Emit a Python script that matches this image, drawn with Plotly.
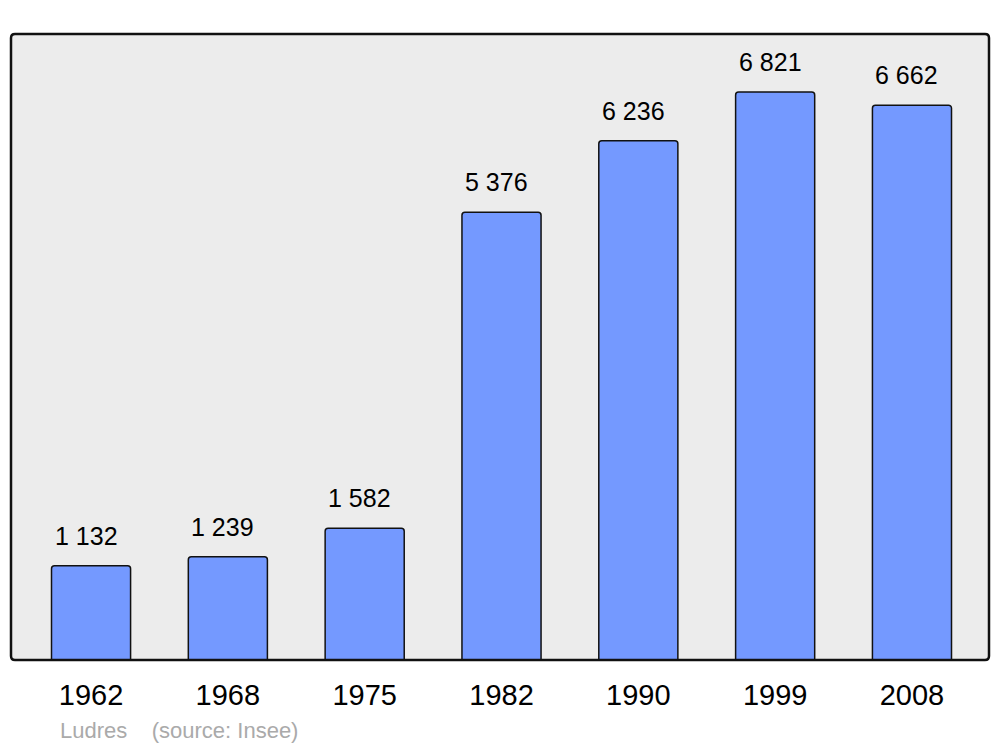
import plotly.graph_objects as go

years = ["1962", "1968", "1975", "1982", "1990", "1999", "2008"]
population = [1132, 1239, 1582, 5376, 6236, 6821, 6662]
labels = ["1 132", "1 239", "1 582", "5 376", "6 236", "6 821", "6 662"]

xs = list(range(len(years)))

FIG_W, FIG_H = 1000, 747
ML, MR, MT, MB = 11, 11, 34, 87
W, H = FIG_W - ML - MR, FIG_H - MT - MB

fig = go.Figure()
fig.add_trace(go.Bar(
    x=xs, y=population, width=0.578,
    marker=dict(color="#7499ff", line=dict(color="#111111", width=1.5), cornerradius=3),
    hoverinfo="skip",
))

for x, v, t in zip(xs, population, labels):
    fig.add_annotation(x=x, y=v, text=t, showarrow=False, yanchor="bottom",
                       yshift=14, xshift=-5,
                       font=dict(family="Liberation Sans, Arial", size=25, color="#000"))

# rounded frame
rx, ry = 4 / W, 4 / H
path = (f"M {rx},0 L {1-rx},0 Q 1,0 1,{ry} L 1,{1-ry} Q 1,1 {1-rx},1 "
        f"L {rx},1 Q 0,1 0,{1-ry} L 0,{ry} Q 0,0 {rx},0 Z")
fig.add_shape(type="path", path=path, xref="paper", yref="paper",
              line=dict(color="#111111", width=2.5), layer="above")

fig.add_annotation(xref="paper", yref="paper", x=47 / W, y=-70 / H, xanchor="left",
                   yanchor="middle", showarrow=False,
                   text="Ludres&nbsp;&nbsp;&nbsp;&nbsp;(source: Insee)",
                   font=dict(family="Liberation Sans, Arial", size=22, color="#aaaaaa"))

fig.update_layout(
    width=FIG_W, height=FIG_H,
    margin=dict(l=ML, r=MR, t=MT, b=MB),
    paper_bgcolor="white", plot_bgcolor="#ececec",
    showlegend=False,
    xaxis=dict(range=[-0.585, 6.563], tickvals=xs, ticktext=years, showgrid=False,
               zeroline=False, ticks="", ticklabelstandoff=15,
               tickfont=dict(family="Liberation Sans, Arial", size=29, color="#000")),
    yaxis=dict(range=[0, 7517], showgrid=False, zeroline=False, showticklabels=False),
)

fig.write_html("out.html", config={"displayModeBar": False},
               post_script="document.body.style.margin='0';document.body.style.overflow='hidden';")
